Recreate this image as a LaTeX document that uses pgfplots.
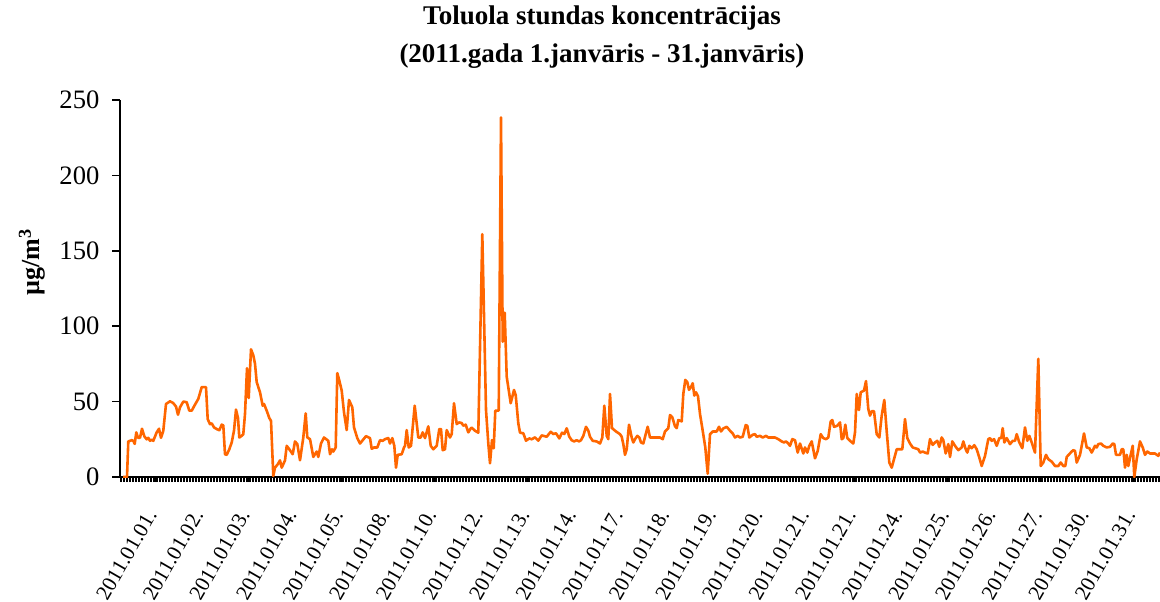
\documentclass[border=0pt]{standalone}
\usepackage{fontspec}
\setmainfont{Liberation Serif}
\usepackage{pgfplots}
\pgfplotsset{compat=1.18}
\definecolor{lineorange}{RGB}{255,102,0}
\begin{document}
\begin{tikzpicture}
\path[use as bounding box] (0,0) rectangle (580pt,300.5pt);
\node[anchor=base,font=\bfseries\fontsize{13.5}{16}\selectfont] at (301pt,288pt) {Toluola stundas koncentrācijas};
\node[anchor=base,font=\bfseries\fontsize{13.5}{16}\selectfont] at (301pt,269pt) {(2011.gada 1.janvāris - 31.janvāris)};
\node[rotate=90,font=\bfseries\fontsize{13}{15}\selectfont] at (16pt,169.5pt) {µg/m\textsuperscript{3}};
\begin{axis}[
  at={(60pt,62pt)}, anchor=south west,
  scale only axis, width=520pt, height=188.5pt,
  xmin=0, xmax=1040, ymin=0, ymax=250,
  axis x line*=bottom, axis y line*=left,
  axis line style={black,line width=0.75pt},
  tick align=outside,
  ytick={0,50,100,150,200,250},
  yticklabel style={font=\fontsize{13.3}{15}\selectfont,xshift=-2.5pt},
  /pgf/number format/assume math mode=true,
  ytick style={black,line width=0.75pt,/pgfplots/major tick length=4pt},
  xtick={35,81.6,128.2,174.8,221.4,268,314.6,361.2,407.8,454.4,501,547.6,594.2,640.8,687.4,734,780.6,827.2,873.8,920.4,967,1013.6},
  xticklabels={2011.01.01.,2011.01.02.,2011.01.03.,2011.01.04.,2011.01.05.,2011.01.08.,2011.01.10.,2011.01.12.,2011.01.13.,2011.01.14.,2011.01.17.,2011.01.18.,2011.01.19.,2011.01.20.,2011.01.21.,2011.01.21.,2011.01.24.,2011.01.25.,2011.01.26.,2011.01.27.,2011.01.30.,2011.01.31.},
  minor xtick={0,1.5,...,1040},
  xtick style={black,line width=0.5pt,/pgfplots/major tick length=2.5pt,/pgfplots/minor tick length=2.5pt},
  xticklabel style={rotate=60,anchor=east,font=\fontsize{10.6}{12}\selectfont},
  xticklabel shift=10pt,
  clip=true,
]
\addplot[lineorange,line width=1.3pt,line join=round] coordinates {
(3,0)(7,0)(8.3,23.6)(11.7,24.4)(13.3,24)(14.7,22)(16.3,29.6)(18,26)(20,26)(22,32)(24.3,27)(26.7,25)(28.3,26)(30,24)(31.7,24.7)(33.3,24)(36.7,29.6)(39,32)(41,26)(43.3,30.7)(46,48.4)(50,50.2)(53.3,49)(56,46.7)(58,41.3)(60,46.2)(63.3,50)(66.7,49.6)(69.3,44)(71.7,44)(75,48)(78.3,51.8)(81.7,59.6)(86,59.6)(87.7,38.4)(90,35)(91.7,35.6)(94,32.9)(96.7,31.8)(99.3,31)(101.7,34.7)(103.3,34.2)(105,15.1)(106.7,14.7)(109.3,18.4)(111.7,22.9)(114,30.7)(116,44.7)(118,39.1)(119.3,26.2)(121.7,27.3)(123.3,28.4)(125,41.8)(127,72.2)(128.7,52.4)(131,84.7)(133.3,80.7)(135,75.1)(136.7,62.9)(140,56.2)(142.7,47.3)(144,48.4)(146.7,44)(149.3,39.1)(151,37.3)(153.3,0.7)(155,6.2)(157.7,8.4)(160,11)(161.7,6.2)(165,11)(166.7,20.7)(169.3,18.4)(172.7,15.1)(175,23.6)(177.3,21.8)(180,11.1)
(183.3,26.2)(185.7,42.2)(187.3,26.2)(190,25.1)(193.3,13.3)(196.7,16.9)(198.3,13.3)(201,22.2)(204,26.2)(208.3,24)(210,15.1)(212,18.4)(213.3,16.9)(215.7,19.6)(217.3,68.9)(219.3,64)(221.7,57.3)(224,42.9)(226.7,31.1)(229,51.1)(232.3,46.2)(234,32.9)(237.3,25.8)(240,22.2)(242.7,24.4)(246,27.1)(250,25.8)(251.7,18.7)(254,19.6)(257.3,19.6)(260,24.4)(262.7,24)(265,25.1)(268.3,25.8)(270,22.2)(272.3,25.8)(274.3,20.7)(276,6.2)(277.7,14.7)(281.7,15.1)(284,19.6)(285,20.7)(286.7,31.1)(288.7,19.6)(291,20.7)(294.7,47.3)(298.3,26.2)(300.7,26.2)(302.7,29.6)(305,25.8)(308.3,33.6)(310.7,20.7)(313.3,18.4)(316.7,20.7)(319.3,31.8)(321,31.8)(322.7,17.8)(325,18.4)(326.7,31.1)(330,26.2)(331.7,28.4)(334,48.9)(336.7,35.1)(339,36.2)(341.7,35.8)(343.3,34)(345.7,34.7)(348.3,29.6)(350.7,32.2)
(351.7,32.7)(355,30.7)(358.3,29.4)(362.3,161)(366,44.4)(368.3,22.3)(370,9.1)(372,24.5)(373.7,19)(375.3,44)(378.7,44)(381,238.5)(382.7,89.7)(384.7,109)(386.7,66.5)(390.7,48.9)(394,57.7)(395.7,54.4)(398.3,35.6)(400,29.4)(403.3,29)(406,24.1)(409.3,25.6)(411.7,25)(415,26.3)(418.3,24.1)(421.7,27.6)(426.7,26.7)(430.7,30)(433.3,28.5)(436,29)(439.3,25.6)(442,29.4)(444.3,28.5)(446.7,32.3)(449.3,26.7)
(451.7,24.4)(454,23.6)(456.7,24.4)(459,23.6)(461,24.4)(463.3,27.3)(466,33.3)(468.3,30.7)(470,26.7)(472.7,24)(476.7,23.6)(480,22.2)(482.3,26.2)(484.3,47.3)(486.7,27.3)(488.3,25.1)(490,55.1)(492,32.4)(496,30.2)(500,28.4)(501.7,26.7)(503.3,21.8)(505,14.7)(506.7,18.4)(509,34.7)(511.7,26.2)(513.3,22.9)(515,25.1)(517.3,27.3)(519.3,26.2)(521,22.9)(523.3,22.2)(525.7,28.4)(527.7,33.3)(530,26.2)(535,26.2)(540,26.2)(542.7,25.1)(545,30.2)(548.3,32.4)(550,41.1)(552.3,39.6)(555,33.6)(556.7,32.4)(558.3,37.8)(561.7,36.9)(563.3,55.1)(565.3,64.4)(567.3,62.9)(569,57.8)(571,59.6)(572.7,62.2)(574.3,54)(576,56.2)(578,53.6)(580,41.8)(582.7,30.7)(585.3,19.6)(587.7,2.2)(590,28.4)(592.7,30.2)(596.7,30.2)(599,33.3)(601,30.2)(603.3,32.2)(606.7,33.3)(610,30.7)(612.7,28.9)(615,26.2)(617.7,27.3)(620,26.2)(622.7,26.7)(625.7,34.4)(627.3,34)(629.3,26.2)(632.7,28)(635,28.4)(636.7,26.7)(640,27.3)
(642.7,26.2)(646,27.3)(648.3,26.2)(655,26.2)(658.3,25.1)(661.7,23.6)(664,22.9)(666,23.6)(668.3,22.2)(670,20.7)(672.3,25.1)(675,24.4)(677.7,16.2)(680,22.2)(683.3,15.6)(685,19.6)(687.3,16.2)(689.3,20.7)(691.7,23.6)(695,12.4)(697.7,17.3)(700.7,28.4)(703.3,25.8)(706,25.1)(708.3,26.2)(710.7,36.9)(712.3,37.8)(714,33.3)(717.3,34)(720,36.2)(721.7,25.1)(723.3,25.8)(725.3,34.7)(727.3,25.8)(730,24)(733.3,22.2)(735,29.6)(736.7,55.1)(739,44.4)(740.7,56.2)(744,57.3)(746,63.6)(748.3,45.1)(750,40.7)(751.7,43.6)(754,43.6)(756.7,28.4)(759.3,26.2)(761.7,40.7)(764.3,51.1)(766.7,30.2)(769.3,9.6)(771.7,6.2)(774,11.8)(776.7,18.4)(782.3,18.4)(785,38.4)(787.3,25.8)(790,22.2)(792.7,19.6)(795,19.1)(798.3,18.4)(800,16.2)(802.7,16.9)(805,16.2)(807.7,15.6)(810,25.1)(812.7,21.3)(815,22.9)(817.3,24)(819.3,20)(821.7,26.2)(823.3,24.4)(825.7,15.6)(828.3,21.8)(830,13.3)
(832.3,23.6)(835,20.7)(838.3,17.8)(841.7,19.6)(843.3,23.6)(845.7,18.4)(847.3,16.2)(849.3,20.7)(851.7,19.1)(854.3,21.1)(856.7,18.4)(859.3,12.9)(861.7,7.3)(865,14)(868.3,25.1)(870,25.8)(871.7,24)(874,25.1)(876.7,20.7)(879.3,25.8)(881.3,25.8)(882.7,32.4)(884.3,22.9)(886.7,25.8)(890,21.8)(892.7,24)(895,24)(896.7,28.4)(899.3,22.9)(902.3,19.1)(905,32.9)(907.3,24)(909.3,27.3)(911.7,22.9)(915,16.2)(918.3,78.4)(920.7,7.3)(923.3,9.6)(926,14.7)(928.3,11.8)(931.7,10.2)(935,7.3)(938.3,7.3)(940.7,9.6)(943.3,7.3)(945.3,7.3)(946.7,13.3)(951.7,16.9)(953.3,17.8)(955,17.3)(956.7,9.6)(960,14.7)(961.7,20.7)(964,28.9)(966.7,19.6)(969.3,19.1)(971.7,16.2)(975,20.7)(976.7,19.6)(978.3,21.8)(981,22.2)(983.3,20.7)(986.7,19.6)(990,20)(992.7,22.2)(994.3,21.8)(996,14.7)(1000,14.7)(1001.7,18.4)(1003.3,18.4)(1005,6.2)(1006.7,14.7)(1008.3,7.3)(1010.7,14.7)(1012.7,20.7)(1014.3,0)(1016.7,11.8)(1020,23.6)(1022.7,19.6)(1025,14.7)(1027.3,16.9)(1030,15.6)(1035,15.6)(1038.3,14)(1040,16.2)
};
\end{axis}
\end{tikzpicture}
\end{document}
